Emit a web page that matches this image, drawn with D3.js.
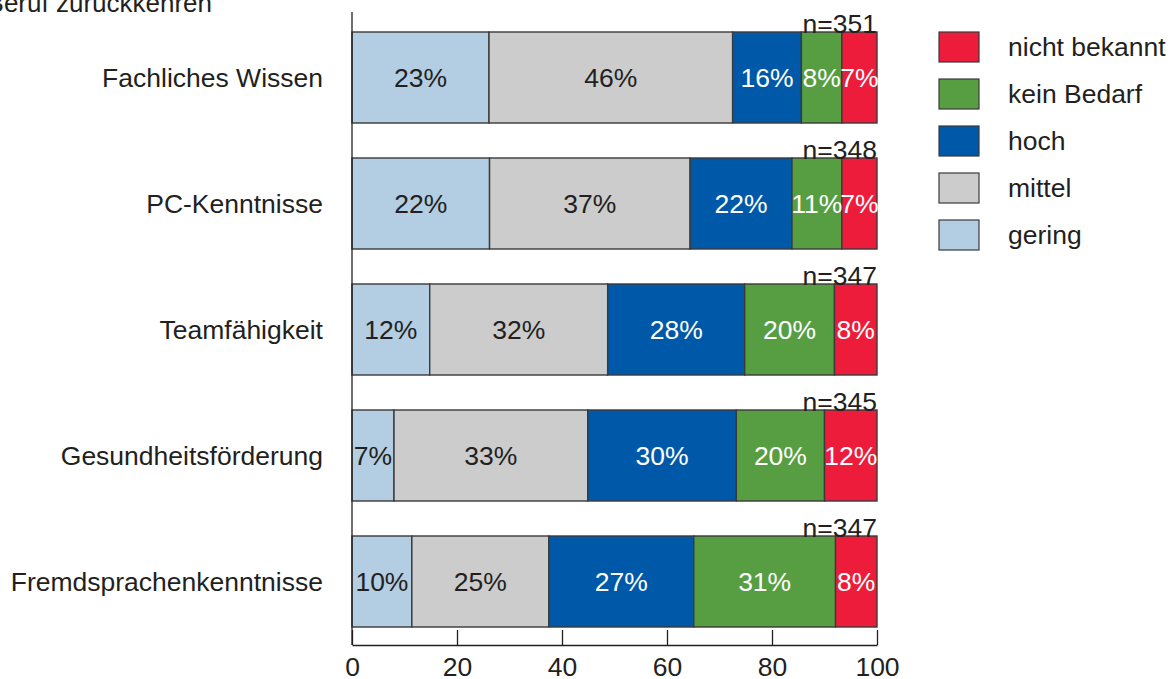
<!DOCTYPE html>
<html>
<head>
<meta charset="utf-8">
<script src="https://cdn.jsdelivr.net/npm/d3@7"></script>
<style>
  html, body { margin: 0; padding: 0; background: #fff; }
  svg { display: block; font-family: "Liberation Sans", Arial, sans-serif; }
</style>
</head>
<body>
<svg id="chart" width="1176" height="679"></svg>
<script>
// ---- data ----
const categories = ["Fachliches Wissen", "PC-Kenntnisse", "Teamfähigkeit", "Gesundheitsförderung", "Fremdsprachenkenntnisse"];
const seriesNames = ["gering", "mittel", "hoch", "kein Bedarf", "nicht bekannt"];
const sampleSizes = ["n=351", "n=348", "n=347", "n=345", "n=347"];
// segment widths as drawn in the picture (percent of bar)
const gering      = [26.1, 26.2, 14.8,  8.0, 11.4];
const mittel      = [46.4, 38.2, 33.9, 36.9, 26.1];
const hoch        = [13.1, 19.4, 26.1, 28.3, 27.6];
const keinBedarf  = [ 7.7,  9.5, 17.1, 16.8, 27.0];
const nichtBekannt= [ 6.7,  6.7,  8.1, 10.0,  7.9];
// printed percentage labels
const labelGering      = [23, 22, 12,  7, 10];
const labelMittel      = [46, 37, 32, 33, 25];
const labelHoch        = [16, 22, 28, 30, 27];
const labelKeinBedarf  = [ 8, 11, 20, 20, 31];
const labelNichtBekannt= [ 7,  7,  8, 12,  8];
const xTicks = [0, 20, 40, 60, 80, 100];
const legendOrder = ["nicht bekannt", "kein Bedarf", "hoch", "mittel", "gering"];

// ---- styling ----
const colors = {
  "gering": "#b3cde2",
  "mittel": "#cccccc",
  "hoch": "#0059a8",
  "kein Bedarf": "#579e43",
  "nicht bekannt": "#ee1c3b"
};
const labelColors = {
  "gering": "#231f20", "mittel": "#231f20", "hoch": "#ffffff",
  "kein Bedarf": "#ffffff", "nicht bekannt": "#ffffff"
};
const ink = "#231f20";
const fontSize = 26.5;

const svg = d3.select("#chart");

const values = [gering, mittel, hoch, keinBedarf, nichtBekannt];
const labels = [labelGering, labelMittel, labelHoch, labelKeinBedarf, labelNichtBekannt];

const rows = categories.map((c, i) => {
  const r = { category: c };
  seriesNames.forEach((s, j) => { r[s] = values[j][i]; });
  return r;
});
const stacked = d3.stack().keys(seriesNames)(rows);

const x = d3.scaleLinear().domain([0, 100]).range([352, 877]);
const y = d3.scaleBand().domain(categories).range([32, 627]).paddingInner(35 / 126).paddingOuter(0);

// title (cut off at the top-left, as in the reference)
svg.append("text")
  .attr("x", 212).attr("y", 12)
  .attr("text-anchor", "end")
  .attr("font-size", 26)
  .attr("fill", ink)
  .text("Fortbildungsbedarf, wenn Sie in den Beruf zurückkehren");

// bars
const layer = svg.append("g").selectAll("g")
  .data(stacked).join("g")
  .attr("fill", d => colors[d.key]);

layer.selectAll("rect")
  .data(d => d.map(p => ({ key: d.key, p })))
  .join("rect")
  .attr("x", d => x(d.p[0]))
  .attr("y", d => y(d.p.data.category))
  .attr("width", d => x(d.p[1]) - x(d.p[0]))
  .attr("height", y.bandwidth())
  .attr("stroke", "#3a3a3a")
  .attr("stroke-width", 1.4);

// segment labels
stacked.forEach((s, j) => {
  svg.append("g").selectAll("text")
    .data(s)
    .join("text")
    .attr("x", d => (x(d[0]) + x(d[1])) / 2)
    .attr("y", d => y(d.data.category) + y.bandwidth() / 2 + 9)
    .attr("text-anchor", "middle")
    .attr("font-size", fontSize)
    .attr("fill", labelColors[s.key])
    .text((d, i) => labels[j][i] + "%");
});

// n labels
svg.append("g").selectAll("text")
  .data(categories)
  .join("text")
  .attr("x", x(100))
  .attr("y", d => y(d) + 1)
  .attr("text-anchor", "end")
  .attr("font-size", fontSize)
  .attr("fill", ink)
  .text((d, i) => sampleSizes[i]);

// category labels
svg.append("g").selectAll("text")
  .data(categories)
  .join("text")
  .attr("x", 323)
  .attr("y", d => y(d) + y.bandwidth() / 2 + 9)
  .attr("text-anchor", "end")
  .attr("font-size", fontSize)
  .attr("fill", ink)
  .text(d => d);

// vertical axis line
svg.append("line")
  .attr("x1", x(0)).attr("x2", x(0))
  .attr("y1", 12).attr("y2", 645)
  .attr("stroke", ink).attr("stroke-width", 1.3);

// x axis
const xAxis = svg.append("g")
  .attr("transform", "translate(0,645)")
  .call(d3.axisBottom(x).tickValues(xTicks).tickFormat(d3.format("d"))
    .tickSizeInner(-15).tickSizeOuter(0).tickPadding(12));
xAxis.select(".domain").attr("stroke", ink).attr("stroke-width", 1.3);
xAxis.selectAll(".tick line").attr("stroke", ink).attr("stroke-width", 1.3);
xAxis.selectAll(".tick text")
  .attr("font-size", fontSize)
  .attr("font-family", "Liberation Sans, Arial, sans-serif")
  .attr("fill", ink);

// legend
const legend = svg.append("g").selectAll("g")
  .data(legendOrder)
  .join("g")
  .attr("transform", (d, i) => `translate(939, ${32 + i * 47})`);
legend.append("rect")
  .attr("width", 40).attr("height", 30)
  .attr("fill", d => colors[d])
  .attr("stroke", "#3a3a3a").attr("stroke-width", 1.2);
legend.append("text")
  .attr("x", 69).attr("y", 24)
  .attr("font-size", fontSize)
  .attr("fill", ink)
  .text(d => d);
</script>
</body>
</html>
